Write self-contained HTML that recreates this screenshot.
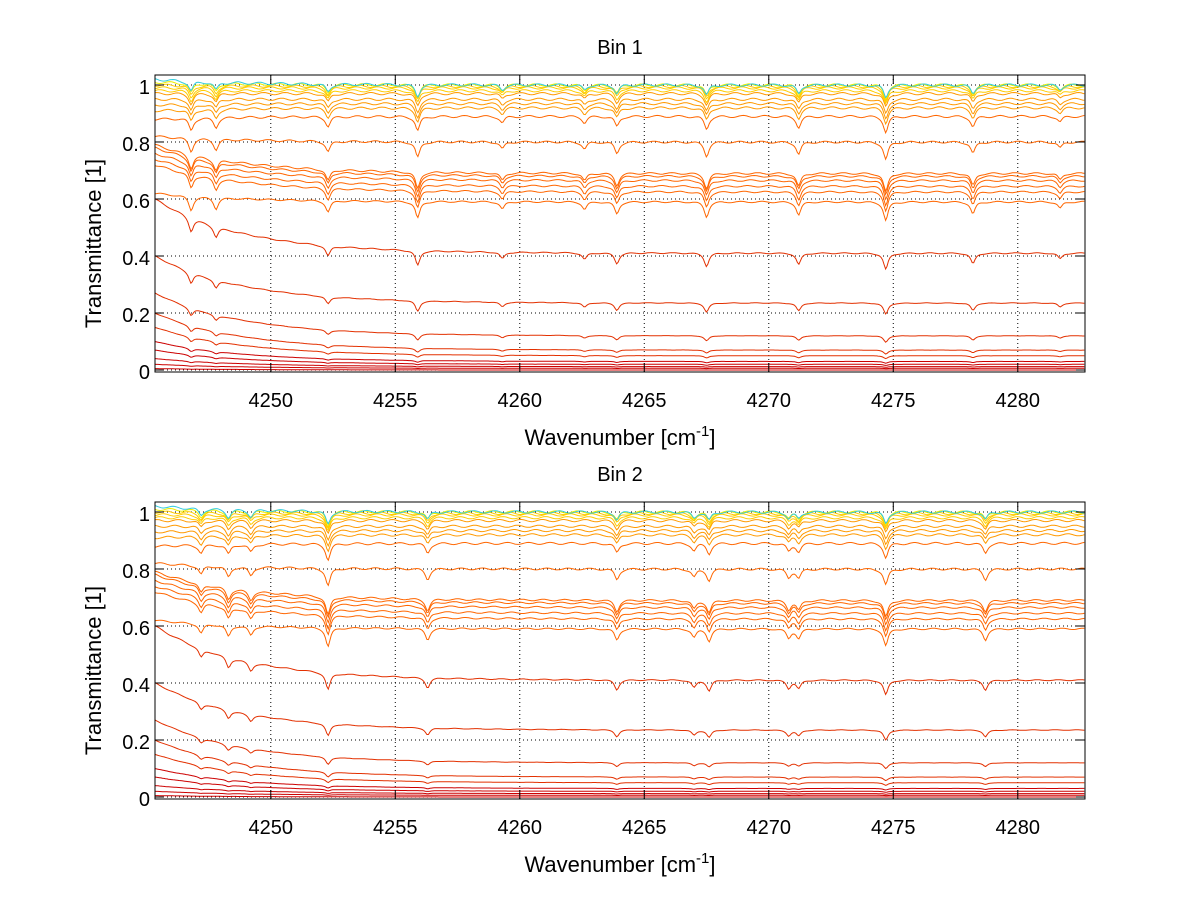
<!DOCTYPE html>
<html><head><meta charset="utf-8"><style>
body{margin:0;background:#fff;font-family:"Liberation Sans",sans-serif}
svg text{font-family:"Liberation Sans",sans-serif}
</style></head><body>
<svg id="fig" width="1200" height="901" xmlns="http://www.w3.org/2000/svg"></svg>
<script>
// ---- data ----
const xTicks=[4250,4255,4260,4265,4270,4275,4280];
const yTicks=[0,0.2,0.4,0.6,0.8,1];
const yTickLabels=["0","0.2","0.4","0.6","0.8","1"];
const panelTitles=["Bin 1","Bin 2"];
const endLevels=[1.0,1.0,0.995,0.99,0.98,0.97,0.95,0.935,0.92,0.89,0.80,0.69,0.68,0.665,0.645,0.625,0.59,0.41,0.235,0.12,0.07,0.05,0.03,0.02,0.012,0.006,0.0];
const startLevels=[1.02,1.01,1.0,0.99,0.98,0.97,0.95,0.93,0.91,0.88,0.82,0.79,0.78,0.76,0.74,0.72,0.62,0.60,0.40,0.27,0.20,0.15,0.10,0.07,0.04,0.02,0.005];
const bin1Lines=[4246.8,4247.8,4252.3,4255.9,4259.3,4262.6,4263.9,4267.5,4271.2,4274.7,4278.2,4281.7];
const bin1Depths=[0.15,0.12,0.12,0.18,0.08,0.08,0.13,0.16,0.14,0.2,0.13,0.07];
const bin2Lines=[4247.2,4248.3,4249.2,4252.3,4256.3,4263.9,4267.0,4267.6,4270.8,4271.2,4274.7,4278.7];
const bin2Depths=[0.1,0.12,0.1,0.2,0.12,0.12,0.09,0.13,0.1,0.1,0.18,0.12];
const panels=[{top:75,bot:372,lines:bin1Lines,depths:bin1Depths},{top:502,bot:799,lines:bin2Lines,depths:bin2Depths}];
// ---- layout ----
const X0=155,X1=1085,XMIN=4245.35,XMAX=4282.7,YMIN=-0.007,YMAX=1.035;
const sx=v=>X0+(v-XMIN)/(XMAX-XMIN)*(X1-X0);
const svg=document.getElementById('fig');
const NS='http://www.w3.org/2000/svg';
function mk(t,a,p){const e=document.createElementNS(NS,t);for(const k in a)e.setAttribute(k,a[k]);(p||svg).appendChild(e);return e;}
panels.forEach((P,pi)=>{
  const sy=v=>P.bot-(v-YMIN)/(YMAX-YMIN)*(P.bot-P.top);
  const g=mk('g',{});
  
  
  xTicks.forEach(t=>{const l=mk('line',{x1:sx(t),x2:sx(t),y1:P.top,y2:P.bot,stroke:'#000','stroke-width':1,'stroke-dasharray':'1,3'},g);
    });
  yTicks.forEach(t=>{const l=mk('line',{x1:X0,x2:X1,y1:sy(t),y2:sy(t),stroke:'#000','stroke-width':1,'stroke-dasharray':'1,3'},g);
    });
  const n=endLevels.length;
  for(let i=n-1;i>=0;i--){
    const E=endLevels[i],S=startLevels[i];
    let pts=[];
    for(let x=XMIN;x<=XMAX;x+=0.06){
      let L=E+(S-E)*Math.exp(-(x-XMIN)/3.5);
      let dip=0;
      P.lines.forEach((c,j)=>{const w=0.11;dip+=P.depths[j]/(1+((x-c)/w)**2);});
      let v=L-dip*L*(1.15-0.9*Math.min(L,1))*0.9;
      v+=0.004*Math.sin(x*7.3+i)*L;
      pts.push(sx(x).toFixed(1)+','+sy(v).toFixed(1));
    }
    let col;
    if(i<2)col=i==0?'#3cd':'#ee0';else if(E>0.97)col='#fc0';else if(E>0.9)col='#f90';else if(E>0.5)col='#f60';else if(E>0.03)col='#e33000';else col='#c00';
    const pl=mk('polyline',{points:pts.join(' '),fill:'none',stroke:col,'stroke-width':1},g);
    
    
  }
  const box=mk('rect',{x:X0,y:P.top,width:X1-X0,height:P.bot-P.top,fill:'none',stroke:'#000','stroke-width':1},g);
  
  xTicks.forEach(t=>{mk('line',{x1:sx(t),x2:sx(t),y1:P.bot,y2:P.bot-9,stroke:'#000'},g);mk('line',{x1:sx(t),x2:sx(t),y1:P.top,y2:P.top+9,stroke:'#000'},g);
    const tx=mk('text',{x:sx(t),y:P.bot+35,'font-size':20,'text-anchor':'middle'},g);tx.textContent=t;
    });
  yTicks.forEach((t,k)=>{mk('line',{x1:X0,x2:X0+9,y1:sy(t),y2:sy(t),stroke:'#000'},g);mk('line',{x1:X1,x2:X1-9,y1:sy(t),y2:sy(t),stroke:'#000'},g);
    const tx=mk('text',{x:X0-5,y:sy(t)+9,'font-size':20,'text-anchor':'end'},g);tx.textContent=yTickLabels[k];
    });
  const ti=mk('text',{x:(X0+X1)/2,y:P.top-21,'font-size':20,'text-anchor':'middle'},g);ti.textContent=panelTitles[pi];
  
  const xl=mk('text',{x:(X0+X1)/2,y:P.bot+73,'font-size':22,'text-anchor':'middle'},g);
  xl.innerHTML='Wavenumber [cm<tspan dy="-9" font-size="15">-1</tspan><tspan dy="9">]</tspan>';
  
  const yc=(P.top+P.bot)/2+20;
  const yl=mk('text',{x:101,y:yc,'font-size':22,'text-anchor':'middle',transform:`rotate(-90 101 ${yc})`},g);yl.textContent='Transmittance [1]';
  
});
</script>
</body></html>
